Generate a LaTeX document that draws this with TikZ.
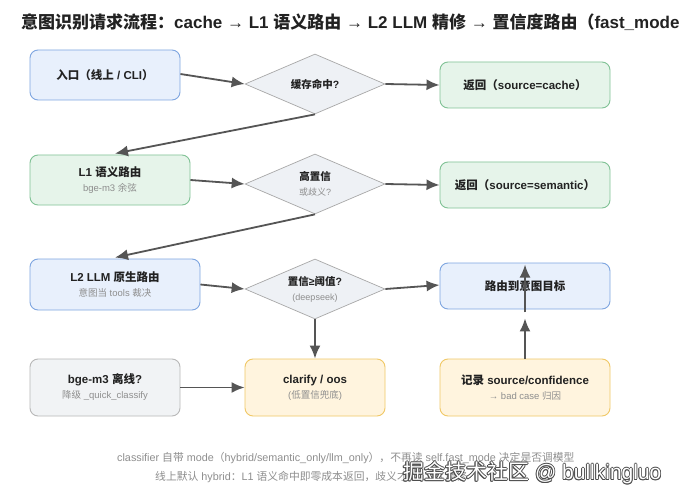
\documentclass[tikz,border=0pt]{standalone}
\usepackage{fontspec}
\setmainfont{Noto Sans CJK SC}
\newfontfamily\latf{Liberation Sans}
\newcommand{\E}[1]{{\latf #1}}
\usetikzlibrary{shapes.geometric,arrows.meta,calc}
\definecolor{bfill}{HTML}{E8F0FC}
\definecolor{bdraw}{HTML}{7EA6E0}
\definecolor{gfill}{HTML}{E6F4EA}
\definecolor{gdraw}{HTML}{80C295}
\definecolor{yfill}{HTML}{FFF4DE}
\definecolor{ydraw}{HTML}{F0C866}
\definecolor{hfill}{HTML}{F1F3F5}
\definecolor{hdraw}{HTML}{B8B8B8}
\definecolor{dfill}{HTML}{EEF1F5}
\definecolor{ddraw}{HTML}{A8A8A8}
\definecolor{ink}{HTML}{222222}
\definecolor{sub}{HTML}{8E8E8E}
\definecolor{arrc}{HTML}{555555}
\newcommand{\mainT}[1]{{\fontsize{11.5}{13}\selectfont\bfseries #1}}
\newcommand{\subT}[1]{{\fontsize{9.5}{11}\selectfont\color{sub}#1}}
\tikzset{
  box/.style={rounded corners=8pt, line width=0.9pt, inner sep=0pt, align=center, text=ink},
  bluebox/.style={box, fill=bfill, draw=bdraw},
  greenbox/.style={box, fill=gfill, draw=gdraw},
  yelbox/.style={box, fill=yfill, draw=ydraw},
  graybox/.style={box, fill=hfill, draw=hdraw},
  dia/.style={diamond, aspect=2.33, minimum width=140pt, minimum height=60pt, inner sep=0pt, fill=dfill, draw=ddraw, line width=0.7pt, align=center, text=ink},
  arr/.style={draw=arrc, line width=1.8pt, -{Latex[length=13pt,width=11pt]}},
  foot/.style={font=\fontsize{10.8}{12}\selectfont, text=sub, inner sep=0pt},
}
\begin{document}
\begin{tikzpicture}[x=1pt,y=-1pt]
\useasboundingbox (0,0) rectangle (680,500);
\clip (0,0) rectangle (680,500);
\fill[white] (0,0) rectangle (680,500);
% title
\node[anchor=west, inner sep=0pt, text=ink, font=\fontsize{17}{19}\selectfont\bfseries] (title) at (21,22) {意图识别请求流程：\E{cache → L1 }语义路由\E{ → L2 LLM }精修\E{ → }置信度路由（\E{fast\_mode}};
% row 1
\node[bluebox, minimum width=150pt, minimum height=50pt] (entry) at (105,75) {\mainT{入口（线上\E{ / CLI}）}};
\node[dia] (d1) at (315,84) {\mainT{\fontsize{10.5}{12}\selectfont 缓存命中\E{?}}};
\node[greenbox, minimum width=170pt, minimum height=46pt] (rcache) at (525,85) {\mainT{返回（\E{source=cache}）}};
% row 2
\node[greenbox, minimum width=160pt, minimum height=50pt] (l1) at (110,180) {\mainT{\E{L1 }语义路由}\\[3pt]\subT{\E{bge-m3 }余弦}};
\node[dia] (d2) at (315,184) {\mainT{\fontsize{10.5}{12}\selectfont 高置信}\\[3pt]\subT{\fontsize{9}{10}\selectfont 或歧义\E{?}}};
\node[greenbox, minimum width=170pt, minimum height=46pt] (rsem) at (525,185) {\mainT{返回（\E{source=semantic}）}};
% row 3
\node[bluebox, minimum width=170pt, minimum height=51pt] (l2) at (115,284.5) {\mainT{\E{L2 LLM }原生路由}\\[3pt]\subT{意图当\E{ tools }裁决}};
\node[dia] (d3) at (315,289) {\mainT{\fontsize{10.5}{12}\selectfont 置信\E{≥}阈值\E{?}}\\[3pt]\subT{\fontsize{9}{10}\selectfont\E{(deepseek)}}};
\node[bluebox, minimum width=170pt, minimum height=46pt] (route) at (525,286) {\mainT{路由到意图目标}};
% row 4
\node[graybox, minimum width=150pt, minimum height=57pt] (bge) at (105,387.5) {\mainT{\E{bge-m3 }离线\E{?}}\\[3pt]\subT{降级\E{ \_quick\_classify}}};
\node[yelbox, minimum width=140pt, minimum height=57pt] (clar) at (315,387.5) {\mainT{\E{clarify / oos}}\\[3pt]\subT{\E{(}低置信兜底\E{)}}};
\node[yelbox, minimum width=170pt, minimum height=57pt] (rec) at (525,387.5) {\mainT{记录\E{ source/confidence}}\\[3pt]\subT{\E{→ bad case }归因}};
% arrows
\draw[arr] ($(entry.east)+(0,-1)$) -- (d1.west);
\draw[arr] (d1.east) -- (rcache.west);
\draw[arr] (d1.south) -- ($(l1.north)+(5,-1)$);
\draw[arr] (l1.east) -- (d2.west);
\draw[arr] (d2.east) -- (rsem.west);
\draw[arr] (d2.south) -- ($(l2.north)+(0,-1)$);
\draw[arr] (l2.east) -- (d3.west);
\draw[arr] (d3.east) -- ($(route.west)+(0,-1)$);
\draw[arr] (d3.south) -- (clar.north);
\draw[arr] (bge.east) -- (clar.west);
\coordinate (rtip) at ($(route.south)+(0,9)$);
\draw[arr] (rec.north) -- (rtip);
\draw[arr] ($(route.south)+(0,3)$) -- ($(route.north)+(0,2)$);
% footer
\node[foot, anchor=west] (f1) at (117,458) {\E{classifier }自带\E{ mode}（\E{hybrid/semantic\_only/llm\_only}），不再读\E{ self.fast\_mode }决定是否调模型};
\node[foot, anchor=west] (f2) at (155,477) {线上默认\E{ hybrid}：\E{L1 }语义命中即零成本返回，歧义才走\E{ LLM }精修};
% watermark
\foreach \dx/\dy in {-0.8/0,0.8/0,0/-0.8,0/0.8,-0.6/-0.6,0.6/0.6,-0.6/0.6,0.6/-0.6}{
  \node[anchor=west, inner sep=0pt, text=black!70, font=\fontsize{21}{23}\selectfont] at (403+\dx,473+\dy) {掘金技术社区\E{ @ bullkingluo}};
}
\node[anchor=west, inner sep=0pt, text=white, font=\fontsize{21}{23}\selectfont] (wm) at (403,473) {掘金技术社区\E{ @ bullkingluo}};
\end{tikzpicture}
\end{document}
